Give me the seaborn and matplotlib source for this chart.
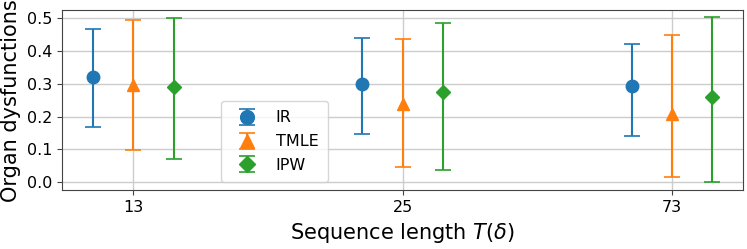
import numpy as np
import matplotlib
matplotlib.use("Agg")
import matplotlib.pyplot as plt
import seaborn as sns

# data
seq_lengths = ["13", "25", "73"]
methods = ["IR", "TMLE", "IPW"]
means = {
    "IR":   [0.322, 0.300, 0.293],
    "TMLE": [0.295, 0.240, 0.209],
    "IPW":  [0.290, 0.274, 0.259],
}
lower = {
    "IR":   [0.167, 0.146, 0.140],
    "TMLE": [0.099, 0.047, 0.015],
    "IPW":  [0.072, 0.038, 0.000],
}
upper = {
    "IR":   [0.467, 0.440, 0.422],
    "TMLE": [0.495, 0.437, 0.448],
    "IPW":  [0.500, 0.486, 0.505],
}
markers = {"IR": "o", "TMLE": "^", "IPW": "D"}
sizes = {"IR": 9, "TMLE": 9, "IPW": 7}
offsets = {"IR": -0.15, "TMLE": 0.0, "IPW": 0.15}

colors = sns.color_palette("tab10", 3)

fig, ax = plt.subplots(figsize=(7.47, 2.49), dpi=100)
x = np.arange(len(seq_lengths))
for m, c in zip(methods, colors):
    mu = np.array(means[m])
    yerr = [mu - np.array(lower[m]), np.array(upper[m]) - mu]
    ax.errorbar(x + offsets[m], mu, yerr=yerr, fmt=markers[m], color=c,
                markersize=sizes[m], capsize=6, elinewidth=1.5, capthick=1.2,
                label=m)

ax.set_xticks(x)
ax.set_xticklabels(seq_lengths, fontsize=11.5)
ax.tick_params(axis="y", labelsize=11.5)
ax.tick_params(colors="#444444", labelcolor="black")
ax.set_yticks([0.0, 0.1, 0.2, 0.3, 0.4, 0.5])
ax.set_ylim(-0.025, 0.525)
ax.grid(True, color="#cccccc", linewidth=1)
ax.set_axisbelow(True)
for s in ax.spines.values():
    s.set_color("#444444")
ax.set_xlabel(r"Sequence length $T(\delta)$", fontsize=15)
ax.set_ylabel("Organ dysfunctions", fontsize=15)
ax.legend(loc="lower left", bbox_to_anchor=(0.222, 0.0), fontsize=11.5,
          handletextpad=0.8, borderpad=0.6, markerscale=1.1, labelspacing=0.55)

plt.subplots_adjust(left=0.083, right=0.995, top=0.96, bottom=0.235)
fig.savefig("out.png", dpi=100)
